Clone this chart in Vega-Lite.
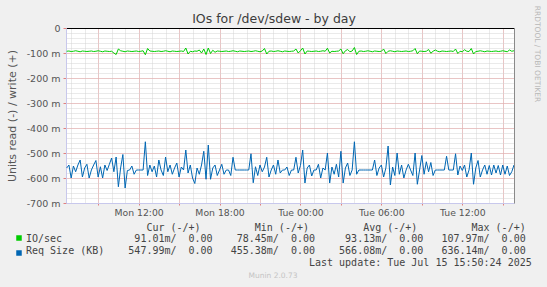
{
  "$schema": "https://vega.github.io/schema/vega-lite/v6.json",
  "width": 448,
  "height": 175,
  "autosize": {"type": "none"},
  "padding": {"left": 66, "top": 28, "right": 33, "bottom": 84},
  "background": "#f0f0f0",
  "title": {"text": "Munin 2.0.73", "orient": "bottom", "anchor": "middle", "frame": "bounds", "font": "DejaVu Sans", "fontSize": 7.5, "fontWeight": "normal", "color": "#c4c4c4", "offset": 4},
  "config": {
    "font": "DejaVu Sans",
    "view": {"stroke": null, "fill": "#ffffff"}
  },
  "data": {"values": [
    {"t":"2025-07-14T06:40Z","io":-93,"rq":-560},
    {"t":"2025-07-14T06:50Z","io":-92,"rq":-548},
    {"t":"2025-07-14T07:00Z","io":-94,"rq":-600},
    {"t":"2025-07-14T07:10Z","io":-93,"rq":-552},
    {"t":"2025-07-14T07:20Z","io":-91,"rq":-575},
    {"t":"2025-07-14T07:30Z","io":-93,"rq":-548},
    {"t":"2025-07-14T07:40Z","io":-95,"rq":-528},
    {"t":"2025-07-14T07:50Z","io":-92,"rq":-596},
    {"t":"2025-07-14T08:00Z","io":-93,"rq":-560},
    {"t":"2025-07-14T08:10Z","io":-94,"rq":-545},
    {"t":"2025-07-14T08:20Z","io":-93,"rq":-600},
    {"t":"2025-07-14T08:30Z","io":-92,"rq":-568},
    {"t":"2025-07-14T08:40Z","io":-94,"rq":-548},
    {"t":"2025-07-14T08:50Z","io":-93,"rq":-530},
    {"t":"2025-07-14T09:00Z","io":-91,"rq":-596},
    {"t":"2025-07-14T09:10Z","io":-93,"rq":-555},
    {"t":"2025-07-14T09:20Z","io":-95,"rq":-600},
    {"t":"2025-07-14T09:30Z","io":-92,"rq":-548},
    {"t":"2025-07-14T09:40Z","io":-93,"rq":-570},
    {"t":"2025-07-14T09:50Z","io":-94,"rq":-545},
    {"t":"2025-07-14T10:00Z","io":-93,"rq":-520},
    {"t":"2025-07-14T10:10Z","io":-100,"rq":-575},
    {"t":"2025-07-14T10:20Z","io":-106,"rq":-516},
    {"t":"2025-07-14T10:30Z","io":-84,"rq":-635},
    {"t":"2025-07-14T10:40Z","io":-91,"rq":-560},
    {"t":"2025-07-14T10:50Z","io":-93,"rq":-506},
    {"t":"2025-07-14T11:00Z","io":-95,"rq":-640},
    {"t":"2025-07-14T11:10Z","io":-92,"rq":-570},
    {"t":"2025-07-14T11:20Z","io":-93,"rq":-568},
    {"t":"2025-07-14T11:30Z","io":-94,"rq":-552},
    {"t":"2025-07-14T11:40Z","io":-93,"rq":-585},
    {"t":"2025-07-14T11:50Z","io":-92,"rq":-568},
    {"t":"2025-07-14T12:00Z","io":-94,"rq":-568},
    {"t":"2025-07-14T12:10Z","io":-93,"rq":-568},
    {"t":"2025-07-14T12:20Z","io":-91,"rq":-568},
    {"t":"2025-07-14T12:30Z","io":-107,"rq":-455},
    {"t":"2025-07-14T12:40Z","io":-82,"rq":-590},
    {"t":"2025-07-14T12:50Z","io":-92,"rq":-548},
    {"t":"2025-07-14T13:00Z","io":-93,"rq":-575},
    {"t":"2025-07-14T13:10Z","io":-94,"rq":-552},
    {"t":"2025-07-14T13:20Z","io":-93,"rq":-596},
    {"t":"2025-07-14T13:30Z","io":-92,"rq":-528},
    {"t":"2025-07-14T13:40Z","io":-94,"rq":-568},
    {"t":"2025-07-14T13:50Z","io":-93,"rq":-590},
    {"t":"2025-07-14T14:00Z","io":-91,"rq":-516},
    {"t":"2025-07-14T14:10Z","io":-93,"rq":-575},
    {"t":"2025-07-14T14:20Z","io":-95,"rq":-548},
    {"t":"2025-07-14T14:30Z","io":-92,"rq":-585},
    {"t":"2025-07-14T14:40Z","io":-93,"rq":-560},
    {"t":"2025-07-14T14:50Z","io":-94,"rq":-540},
    {"t":"2025-07-14T15:00Z","io":-93,"rq":-596},
    {"t":"2025-07-14T15:10Z","io":-92,"rq":-556},
    {"t":"2025-07-14T15:20Z","io":-94,"rq":-568},
    {"t":"2025-07-14T15:30Z","io":-80,"rq":-488},
    {"t":"2025-07-14T15:40Z","io":-104,"rq":-580},
    {"t":"2025-07-14T15:50Z","io":-93,"rq":-548},
    {"t":"2025-07-14T16:00Z","io":-95,"rq":-600},
    {"t":"2025-07-14T16:10Z","io":-92,"rq":-622},
    {"t":"2025-07-14T16:20Z","io":-93,"rq":-560},
    {"t":"2025-07-14T16:30Z","io":-88,"rq":-585},
    {"t":"2025-07-14T16:40Z","io":-100,"rq":-548},
    {"t":"2025-07-14T16:50Z","io":-84,"rq":-493},
    {"t":"2025-07-14T17:00Z","io":-106,"rq":-605},
    {"t":"2025-07-14T17:10Z","io":-80,"rq":-468},
    {"t":"2025-07-14T17:20Z","io":-102,"rq":-605},
    {"t":"2025-07-14T17:30Z","io":-89,"rq":-560},
    {"t":"2025-07-14T17:40Z","io":-97,"rq":-548},
    {"t":"2025-07-14T17:50Z","io":-92,"rq":-590},
    {"t":"2025-07-14T18:00Z","io":-93,"rq":-568},
    {"t":"2025-07-14T18:10Z","io":-94,"rq":-545},
    {"t":"2025-07-14T18:20Z","io":-93,"rq":-585},
    {"t":"2025-07-14T18:30Z","io":-92,"rq":-568},
    {"t":"2025-07-14T18:40Z","io":-94,"rq":-568},
    {"t":"2025-07-14T18:50Z","io":-93,"rq":-590},
    {"t":"2025-07-14T19:00Z","io":-91,"rq":-517},
    {"t":"2025-07-14T19:10Z","io":-93,"rq":-568},
    {"t":"2025-07-14T19:20Z","io":-95,"rq":-568},
    {"t":"2025-07-14T19:30Z","io":-92,"rq":-568},
    {"t":"2025-07-14T19:40Z","io":-93,"rq":-568},
    {"t":"2025-07-14T19:50Z","io":-94,"rq":-568},
    {"t":"2025-07-14T20:00Z","io":-93,"rq":-568},
    {"t":"2025-07-14T20:10Z","io":-92,"rq":-568},
    {"t":"2025-07-14T20:20Z","io":-94,"rq":-503},
    {"t":"2025-07-14T20:30Z","io":-93,"rq":-619},
    {"t":"2025-07-14T20:40Z","io":-91,"rq":-555},
    {"t":"2025-07-14T20:50Z","io":-93,"rq":-590},
    {"t":"2025-07-14T21:00Z","io":-95,"rq":-548},
    {"t":"2025-07-14T21:10Z","io":-92,"rq":-575},
    {"t":"2025-07-14T21:20Z","io":-82,"rq":-556},
    {"t":"2025-07-14T21:30Z","io":-104,"rq":-517},
    {"t":"2025-07-14T21:40Z","io":-93,"rq":-596},
    {"t":"2025-07-14T21:50Z","io":-92,"rq":-568},
    {"t":"2025-07-14T22:00Z","io":-94,"rq":-548},
    {"t":"2025-07-14T22:10Z","io":-93,"rq":-585},
    {"t":"2025-07-14T22:20Z","io":-91,"rq":-528},
    {"t":"2025-07-14T22:30Z","io":-93,"rq":-580},
    {"t":"2025-07-14T22:40Z","io":-95,"rq":-568},
    {"t":"2025-07-14T22:50Z","io":-92,"rq":-568},
    {"t":"2025-07-14T23:00Z","io":-93,"rq":-556},
    {"t":"2025-07-14T23:10Z","io":-94,"rq":-590},
    {"t":"2025-07-14T23:20Z","io":-93,"rq":-568},
    {"t":"2025-07-14T23:30Z","io":-92,"rq":-568},
    {"t":"2025-07-14T23:40Z","io":-84,"rq":-517},
    {"t":"2025-07-14T23:50Z","io":-100,"rq":-580},
    {"t":"2025-07-15T00:00Z","io":-91,"rq":-550},
    {"t":"2025-07-15T00:10Z","io":-80,"rq":-488},
    {"t":"2025-07-15T00:20Z","io":-104,"rq":-620},
    {"t":"2025-07-15T00:30Z","io":-92,"rq":-560},
    {"t":"2025-07-15T00:40Z","io":-93,"rq":-548},
    {"t":"2025-07-15T00:50Z","io":-94,"rq":-592},
    {"t":"2025-07-15T01:00Z","io":-93,"rq":-568},
    {"t":"2025-07-15T01:10Z","io":-92,"rq":-568},
    {"t":"2025-07-15T01:20Z","io":-94,"rq":-545},
    {"t":"2025-07-15T01:30Z","io":-93,"rq":-600},
    {"t":"2025-07-15T01:40Z","io":-91,"rq":-560},
    {"t":"2025-07-15T01:50Z","io":-93,"rq":-568},
    {"t":"2025-07-15T02:00Z","io":-81,"rq":-500},
    {"t":"2025-07-15T02:10Z","io":-100,"rq":-620},
    {"t":"2025-07-15T02:20Z","io":-93,"rq":-556},
    {"t":"2025-07-15T02:30Z","io":-94,"rq":-585},
    {"t":"2025-07-15T02:40Z","io":-93,"rq":-545},
    {"t":"2025-07-15T02:50Z","io":-92,"rq":-596},
    {"t":"2025-07-15T03:00Z","io":-84,"rq":-493},
    {"t":"2025-07-15T03:10Z","io":-103,"rq":-620},
    {"t":"2025-07-15T03:20Z","io":-91,"rq":-560},
    {"t":"2025-07-15T03:30Z","io":-86,"rq":-540},
    {"t":"2025-07-15T03:40Z","io":-95,"rq":-590},
    {"t":"2025-07-15T03:50Z","io":-92,"rq":-568},
    {"t":"2025-07-15T04:00Z","io":-78,"rq":-455},
    {"t":"2025-07-15T04:10Z","io":-106,"rq":-585},
    {"t":"2025-07-15T04:20Z","io":-93,"rq":-568},
    {"t":"2025-07-15T04:30Z","io":-92,"rq":-568},
    {"t":"2025-07-15T04:40Z","io":-94,"rq":-568},
    {"t":"2025-07-15T04:50Z","io":-93,"rq":-568},
    {"t":"2025-07-15T05:00Z","io":-91,"rq":-568},
    {"t":"2025-07-15T05:10Z","io":-93,"rq":-568},
    {"t":"2025-07-15T05:20Z","io":-95,"rq":-568},
    {"t":"2025-07-15T05:30Z","io":-92,"rq":-528},
    {"t":"2025-07-15T05:40Z","io":-93,"rq":-590},
    {"t":"2025-07-15T05:50Z","io":-94,"rq":-560},
    {"t":"2025-07-15T06:00Z","io":-93,"rq":-548},
    {"t":"2025-07-15T06:10Z","io":-84,"rq":-596},
    {"t":"2025-07-15T06:20Z","io":-102,"rq":-560},
    {"t":"2025-07-15T06:30Z","io":-93,"rq":-472},
    {"t":"2025-07-15T06:40Z","io":-91,"rq":-628},
    {"t":"2025-07-15T06:50Z","io":-93,"rq":-556},
    {"t":"2025-07-15T07:00Z","io":-95,"rq":-590},
    {"t":"2025-07-15T07:10Z","io":-92,"rq":-500},
    {"t":"2025-07-15T07:20Z","io":-93,"rq":-585},
    {"t":"2025-07-15T07:30Z","io":-94,"rq":-548},
    {"t":"2025-07-15T07:40Z","io":-93,"rq":-600},
    {"t":"2025-07-15T07:50Z","io":-92,"rq":-568},
    {"t":"2025-07-15T08:00Z","io":-94,"rq":-545},
    {"t":"2025-07-15T08:10Z","io":-93,"rq":-568},
    {"t":"2025-07-15T08:20Z","io":-91,"rq":-590},
    {"t":"2025-07-15T08:30Z","io":-82,"rq":-500},
    {"t":"2025-07-15T08:40Z","io":-103,"rq":-625},
    {"t":"2025-07-15T08:50Z","io":-92,"rq":-568},
    {"t":"2025-07-15T09:00Z","io":-93,"rq":-510},
    {"t":"2025-07-15T09:10Z","io":-94,"rq":-585},
    {"t":"2025-07-15T09:20Z","io":-93,"rq":-535},
    {"t":"2025-07-15T09:30Z","io":-86,"rq":-575},
    {"t":"2025-07-15T09:40Z","io":-101,"rq":-538},
    {"t":"2025-07-15T09:50Z","io":-93,"rq":-590},
    {"t":"2025-07-15T10:00Z","io":-88,"rq":-568},
    {"t":"2025-07-15T10:10Z","io":-93,"rq":-568},
    {"t":"2025-07-15T10:20Z","io":-95,"rq":-568},
    {"t":"2025-07-15T10:30Z","io":-92,"rq":-568},
    {"t":"2025-07-15T10:40Z","io":-93,"rq":-568},
    {"t":"2025-07-15T10:50Z","io":-94,"rq":-513},
    {"t":"2025-07-15T11:00Z","io":-93,"rq":-568},
    {"t":"2025-07-15T11:10Z","io":-92,"rq":-568},
    {"t":"2025-07-15T11:20Z","io":-94,"rq":-568},
    {"t":"2025-07-15T11:30Z","io":-84,"rq":-503},
    {"t":"2025-07-15T11:40Z","io":-102,"rq":-588},
    {"t":"2025-07-15T11:50Z","io":-93,"rq":-552},
    {"t":"2025-07-15T12:00Z","io":-95,"rq":-570},
    {"t":"2025-07-15T12:10Z","io":-87,"rq":-548},
    {"t":"2025-07-15T12:20Z","io":-93,"rq":-596},
    {"t":"2025-07-15T12:30Z","io":-94,"rq":-568},
    {"t":"2025-07-15T12:40Z","io":-82,"rq":-500},
    {"t":"2025-07-15T12:50Z","io":-104,"rq":-625},
    {"t":"2025-07-15T13:00Z","io":-94,"rq":-560},
    {"t":"2025-07-15T13:10Z","io":-93,"rq":-530},
    {"t":"2025-07-15T13:20Z","io":-91,"rq":-596},
    {"t":"2025-07-15T13:30Z","io":-93,"rq":-568},
    {"t":"2025-07-15T13:40Z","io":-95,"rq":-548},
    {"t":"2025-07-15T13:50Z","io":-92,"rq":-585},
    {"t":"2025-07-15T14:00Z","io":-93,"rq":-550},
    {"t":"2025-07-15T14:10Z","io":-94,"rq":-588},
    {"t":"2025-07-15T14:20Z","io":-93,"rq":-548},
    {"t":"2025-07-15T14:30Z","io":-92,"rq":-580},
    {"t":"2025-07-15T14:40Z","io":-94,"rq":-550},
    {"t":"2025-07-15T14:50Z","io":-93,"rq":-588},
    {"t":"2025-07-15T15:00Z","io":-91,"rq":-548},
    {"t":"2025-07-15T15:10Z","io":-93,"rq":-585},
    {"t":"2025-07-15T15:20Z","io":-95,"rq":-552},
    {"t":"2025-07-15T15:30Z","io":-88,"rq":-590},
    {"t":"2025-07-15T15:40Z","io":-93,"rq":-575},
    {"t":"2025-07-15T15:50Z","io":-91,"rq":-548}
  ]},
  "layer": [
    {
      "mark": {"type": "line", "strokeWidth": 1, "clip": true},
      "encoding": {
        "x": {
          "field": "t", "type": "temporal",
          "scale": {"type": "utc", "domain": [1752475020000, 1752594600000], "nice": false},
          "axis": {
            "orient": "top",
            "values": [1752476400000,1752480000000,1752483600000,1752487200000,1752490800000,1752494400000,1752498000000,1752501600000,1752505200000,1752508800000,1752512400000,1752516000000,1752519600000,1752523200000,1752526800000,1752530400000,1752534000000,1752537600000,1752541200000,1752544800000,1752548400000,1752552000000,1752555600000,1752559200000,1752562800000,1752566400000,1752570000000,1752573600000,1752577200000,1752580800000,1752584400000,1752588000000,1752591600000],
            "grid": true, "gridColor": "#d4d4d4", "gridDash": [1, 1],
            "labels": false, "ticks": false,
            "domain": true, "domainColor": "#000000", "domainWidth": 1,
            "title": "IOs for /dev/sdew - by day", "titleFontSize": 12.5, "titleFontWeight": "normal", "titleColor": "#3c3c3c",
            "titleX": 207.5, "titleY": -6, "titleAlign": "center", "titleBaseline": "alphabetic"
          }
        },
        "y": {
          "field": "io", "type": "quantitative",
          "scale": {"domain": [-700, 0], "nice": false},
          "axis": {
            "orient": "right",
            "values": [-680,-660,-640,-620,-600,-580,-560,-540,-520,-500,-480,-460,-440,-420,-400,-380,-360,-340,-320,-300,-280,-260,-240,-220,-200,-180,-160,-140,-120,-100,-80,-60,-40,-20],
            "grid": true, "gridColor": "#d4d4d4", "gridDash": [1, 1],
            "labels": false, "ticks": false,
            "domain": true, "domainColor": "#8a8a8a",
            "title": "RRDTOOL / TOBI OETIKER", "titleFontSize": 7.5, "titleFontWeight": "normal", "titleColor": "#b8b8b8",
            "titleAngle": 90, "titleX": 20, "titleY": 25.5, "titleAlign": "center", "titleBaseline": "alphabetic"
          }
        },
        "color": {
          "datum": "IO/sec",
          "scale": {"domain": ["IO/sec", "Req Size (KB)"], "range": ["#00cc00", "#0066b3"]},
          "legend": {
            "orient": "none", "legendX": -52, "legendY": 205, "title": null,
            "labelExpr": "''", "labelFontSize": 10, "symbolType": "square", "symbolSize": 1,
            "symbolStrokeWidth": 4.5, "rowPadding": -7.7, "padding": 0
          }
        }
      }
    },
    {
      "mark": {"type": "line", "strokeWidth": 1, "clip": true},
      "encoding": {
        "x": {
          "field": "t", "type": "temporal",
          "axis": {
            "orient": "bottom",
            "values": [1752483600000,1752494400000,1752505200000,1752516000000,1752526800000,1752537600000,1752548400000,1752559200000,1752570000000,1752580800000,1752591600000],
            "grid": true, "gridColor": "#e8a0a0", "gridDash": [1, 1],
            "ticks": true, "tickColor": "#e08080", "tickSize": 2, "labelPadding": 3,
            "labelExpr": "utchours(datum.value) % 6 == 0 ? utcFormat(datum.value, '%a %H:%M') : ''",
            "labelFontSize": 9.3, "labelColor": "#555555", "labelOverlap": false, "labelFlush": false,
            "domain": true, "domainColor": "#c8c8ec",
            "title": [
              "\u200b\u00a0\u00a0\u00a0\u00a0\u00a0\u00a0\u00a0\u00a0\u00a0\u00a0\u00a0\u00a0\u00a0\u00a0\u00a0\u00a0\u00a0\u00a0\u00a0\u00a0Cur\u00a0(-/+)\u00a0\u00a0\u00a0\u00a0\u00a0\u00a0\u00a0\u00a0\u00a0Min\u00a0(-/+)\u00a0\u00a0\u00a0\u00a0\u00a0\u00a0\u00a0\u00a0\u00a0Avg\u00a0(-/+)\u00a0\u00a0\u00a0\u00a0\u00a0\u00a0\u00a0\u00a0\u00a0Max\u00a0(-/+)",
              "IO/sec\u00a0\u00a0\u00a0\u00a0\u00a0\u00a0\u00a0\u00a0\u00a0\u00a0\u00a0\u00a091.01m/\u00a0\u00a00.00\u00a0\u00a0\u00a0\u00a078.45m/\u00a0\u00a00.00\u00a0\u00a0\u00a0\u00a0\u00a093.13m/\u00a0\u00a00.00\u00a0\u00a0\u00a0107.97m/\u00a0\u00a00.00",
              "Req\u00a0Size\u00a0(KB)\u00a0\u00a0\u00a0\u00a0547.99m/\u00a0\u00a00.00\u00a0\u00a0\u00a0455.38m/\u00a0\u00a00.00\u00a0\u00a0\u00a0\u00a0566.08m/\u00a0\u00a00.00\u00a0\u00a0\u00a0636.14m/\u00a0\u00a00.00",
              "\u200b\u00a0\u00a0\u00a0\u00a0\u00a0\u00a0\u00a0\u00a0\u00a0\u00a0\u00a0\u00a0\u00a0\u00a0\u00a0\u00a0\u00a0\u00a0\u00a0\u00a0\u00a0\u00a0\u00a0\u00a0\u00a0\u00a0\u00a0\u00a0\u00a0\u00a0\u00a0\u00a0\u00a0\u00a0\u00a0\u00a0\u00a0\u00a0\u00a0\u00a0\u00a0\u00a0\u00a0\u00a0\u00a0\u00a0\u00a0Last\u00a0update:\u00a0Tue\u00a0Jul\u00a015\u00a015:50:24\u00a02025"
            ],
            "titleFont": "DejaVu Sans Mono", "titleFontSize": 10, "titleFontWeight": "normal", "titleColor": "#444444",
            "titleAlign": "left", "titleBaseline": "alphabetic", "titleX": -40.5, "titleY": 27.2, "titleLineHeight": 11.8, "titleLimit": 1000
          }
        },
        "y": {
          "field": "rq", "type": "quantitative",
          "axis": {
            "orient": "left",
            "values": [-700, -600, -500, -400, -300, -200, -100, 0],
            "grid": true, "gridColor": "#e8a0a0", "gridDash": [1, 1],
            "tickColor": "#e08080", "tickSize": 3, "labelPadding": 3,
            "labelExpr": "datum.value == 0 ? '0' : datum.value + ' m'",
            "labelFontSize": 9.5, "labelColor": "#555555",
            "domain": true, "domainColor": "#c8c8ec",
            "title": "Units read (-) / write (+)", "titleFontSize": 11, "titleFontWeight": "normal", "titleColor": "#555555",
            "titleAngle": 270, "titleX": -51, "titleY": 87.5, "titleAlign": "center", "titleBaseline": "alphabetic"
          }
        },
        "color": {"datum": "Req Size (KB)"}
      }
    }
  ],
  "resolve": {"axis": {"x": "independent", "y": "independent"}}
}
